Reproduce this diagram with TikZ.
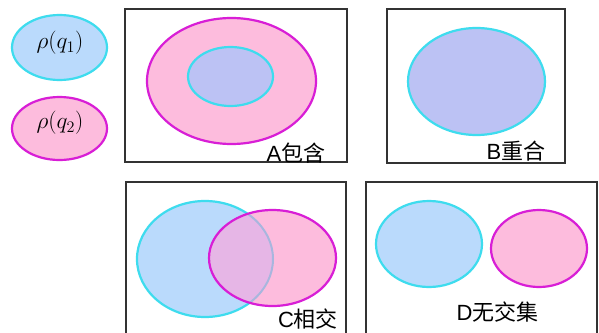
\documentclass[tikz,border=0pt]{standalone}
\usepackage{fontspec}
\setmainfont{Liberation Sans}
\newfontfamily\cjk{Noto Sans CJK SC}
\usetikzlibrary{shapes.geometric}
\definecolor{cyanline}{HTML}{3EDCEE}
\definecolor{bluefill}{HTML}{BADAFC}
\definecolor{pinkfill}{HTML}{FDBCDD}
\definecolor{magline}{HTML}{D81ED6}
\definecolor{lavfill}{HTML}{BCC2F4}
\definecolor{mixfill}{HTML}{E6B6E6}
\definecolor{mixline}{HTML}{A8B6DE}
\definecolor{boxline}{HTML}{333333}
\tikzset{
  frame/.style={draw=boxline, line width=2pt},
  setq/.style={ellipse, draw=cyanline, fill=bluefill, line width=2.2pt, inner sep=0pt},
  setp/.style={ellipse, draw=magline, fill=pinkfill, line width=2.2pt, inner sep=0pt},
  lab/.style={font=\fontsize{22}{22}\selectfont, inner sep=0pt, text=black},
  leg/.style={font=\fontsize{21}{21}\selectfont, inner sep=0pt, scale=1.12}
}
\begin{document}
\begin{tikzpicture}[x=1pt,y=-1pt]
\useasboundingbox (0,0) rectangle (599,332);
\clip (0,0) rectangle (599,332);
\fill[white] (0,0) rectangle (599,332);
% legend
\node[setq, minimum width=95pt, minimum height=65pt] (l1) at (59.5,47.5) {};
\node[leg] (t1) at (60,43) {$\rho(q_1)$};
\node[setp, minimum width=95pt, minimum height=63pt] (l2) at (59.5,128.5) {};
\node[leg] (t2) at (60,123) {$\rho(q_2)$};
% A
\node[frame, minimum width=222pt, minimum height=153pt, inner sep=0pt] (boxA) at (236,85.5) {};
\node[setp, minimum width=169pt, minimum height=126pt] (aout) at (231.5,81) {};
\node[setq, fill=lavfill, minimum width=85pt, minimum height=59pt] (ain) at (230.5,76.5) {};
\node[lab] (la) at (296,153) {A{\cjk 包含}};
% B
\node[frame, minimum width=178pt, minimum height=154pt, inner sep=0pt] (boxB) at (476,86) {};
\node[setq, fill=lavfill, minimum width=137pt, minimum height=107pt] (bell) at (476.5,81.5) {};
\node[lab] (lb) at (516,151) {B{\cjk 重合}};
% C
\node[frame, minimum width=220pt, minimum height=180pt, inner sep=0pt] (boxC) at (236,272) {};
\node[setq, minimum width=136pt, minimum height=116pt] (cq) at (205,259) {};
\node[ellipse, fill=pinkfill, minimum width=127pt, minimum height=96pt, inner sep=0pt] (cpf) at (272.5,258) {};
\begin{scope}
  \clip (272.5,258) ellipse [x radius=63.5pt, y radius=48pt];
  \fill[mixfill] (205,259) ellipse [x radius=68pt, y radius=58pt];
  \draw[mixline, line width=2pt] (205,259) ellipse [x radius=68pt, y radius=58pt];
\end{scope}
\node[ellipse, draw=magline, line width=2.2pt, minimum width=127pt, minimum height=96pt, inner sep=0pt] (cp) at (272.5,258) {};
\node[lab] (lc) at (308,319) {C{\cjk 相交}};
% D
\node[frame, minimum width=231pt, minimum height=180pt, inner sep=0pt] (boxD) at (481.5,272) {};
\node[setq, minimum width=106pt, minimum height=86pt] (dq) at (429,244) {};
\node[setp, minimum width=96pt, minimum height=77pt] (dp) at (539,248.5) {};
\node[lab] (ld) at (497.5,312) {D{\cjk 无交集}};
\end{tikzpicture}
\end{document}
